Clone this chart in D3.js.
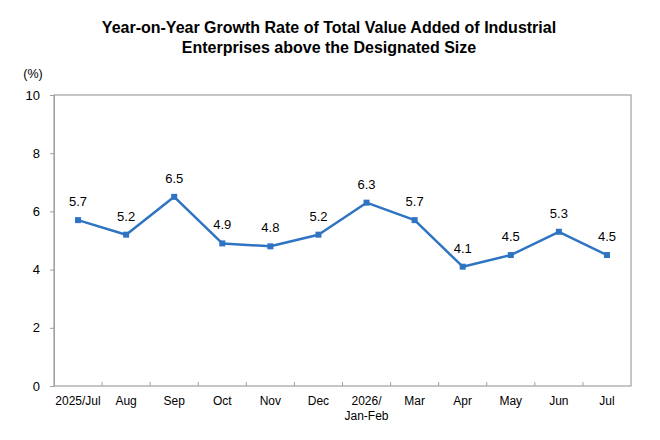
<!DOCTYPE html>
<html>
<head>
<meta charset="utf-8">
<script src="https://cdn.jsdelivr.net/npm/d3@7"></script>
<style>
  body { margin: 0; background: #fff; }
  svg { font-family: "Liberation Sans", Arial, sans-serif; }
</style>
</head>
<body>
<svg id="chart" width="660" height="440"></svg>
<script>
// datos del gráfico
var months = ["2025/Jul", "Aug", "Sep", "Oct", "Nov", "Dec", "2026/\nJan-Feb", "Mar", "Apr", "May", "Jun", "Jul"];
var growth = [5.7, 5.2, 6.5, 4.9, 4.8, 5.2, 6.3, 5.7, 4.1, 4.5, 5.3, 4.5];
var yTicks = [0, 2, 4, 6, 8, 10];
var titleLines = ["Year-on-Year Growth Rate of Total Value Added of Industrial", "Enterprises above the Designated Size"];

var svg = d3.select("#chart");
var margin = {top: 95, right: 29, bottom: 54, left: 54};
var W = 660, H = 440;
var lineColor = "#2E74C2", axisColor = "#A0A0A0";

var x = d3.scaleBand().domain(d3.range(months.length)).range([margin.left, W - margin.right]);
var y = d3.scaleLinear().domain([0, 10]).range([H - margin.bottom, margin.top]);

// título
svg.append("text").attr("x", 329).attr("y", 33).attr("text-anchor", "middle")
  .style("font-weight", "bold").style("font-size", "16px")
  .selectAll("tspan").data(titleLines).enter().append("tspan")
  .attr("x", 329).attr("dy", function(d, i) { return i ? 20 : 0; })
  .text(function(d) { return d; });

// marco del área de trazado
svg.append("rect").attr("x", x.range()[0]).attr("y", y(10))
  .attr("width", x.range()[1] - x.range()[0]).attr("height", y(0) - y(10))
  .attr("fill", "none").attr("stroke", axisColor).attr("stroke-width", 1.2);

// eje Y
var yAxis = svg.append("g").attr("transform", "translate(" + margin.left + ",0)")
  .call(d3.axisLeft(y).tickValues(yTicks).tickSize(4).tickPadding(10));
yAxis.select(".domain").attr("stroke", axisColor);
yAxis.selectAll(".tick line").attr("stroke", axisColor);
yAxis.selectAll("text").style("font-size", "13px").attr("fill", "#000").style("font-family", "inherit");

svg.append("text").attr("x", 33).attr("y", 78).attr("text-anchor", "middle")
  .style("font-size", "12.5px").text("(%)");

// eje X: marcas hacia dentro en los límites de cada banda
var xb = svg.append("g");
xb.selectAll("line").data(d3.range(1, months.length)).enter().append("line")
  .attr("x1", function(i) { return x(i); }).attr("x2", function(i) { return x(i); })
  .attr("y1", y(0)).attr("y2", y(0) - 4).attr("stroke", axisColor);
var xl = xb.selectAll("text.lab").data(months).enter().append("text")
  .attr("class", "lab").attr("text-anchor", "middle").style("font-size", "12px")
  .attr("x", function(d, i) { return x(i) + x.bandwidth() / 2; })
  .attr("y", y(0) + 19);
xl.selectAll("tspan").data(function(d) { return d.split("\n"); }).enter().append("tspan")
  .attr("x", function() { return d3.select(this.parentNode).attr("x"); })
  .attr("dy", function(d, i) { return i ? 15 : 0; })
  .text(function(d) { return d; });

// línea
var cx = function(d, i) { return x(i) + x.bandwidth() / 2; };
svg.append("path").datum(growth)
  .attr("fill", "none").attr("stroke", lineColor).attr("stroke-width", 2.5)
  .attr("stroke-linejoin", "round")
  .attr("d", d3.line().x(cx).y(function(d) { return y(d); }));

svg.selectAll("rect.mk").data(growth).enter().append("rect").attr("class", "mk")
  .attr("x", function(d, i) { return cx(d, i) - 3; })
  .attr("y", function(d) { return y(d) - 3; })
  .attr("width", 6).attr("height", 6).attr("fill", lineColor);

svg.selectAll("text.val").data(growth).enter().append("text").attr("class", "val")
  .attr("text-anchor", "middle").style("font-size", "13px")
  .attr("x", cx).attr("y", function(d) { return y(d) - 14; })
  .text(function(d) { return d.toFixed(1); });
</script>
</body>
</html>
